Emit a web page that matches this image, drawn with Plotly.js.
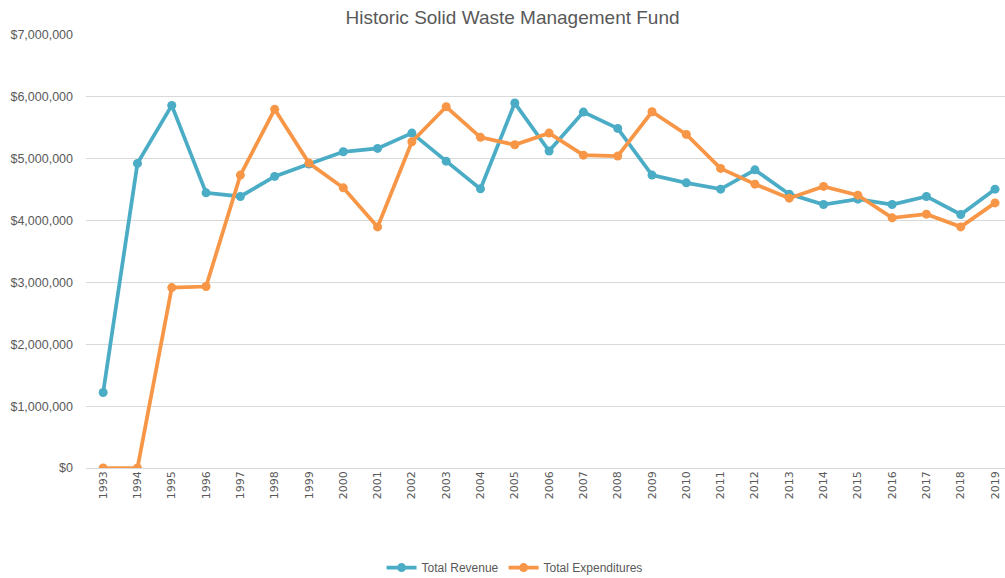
<!DOCTYPE html>
<html>
<head>
<meta charset="utf-8">
<script src="https://cdn.plot.ly/plotly-3.0.1.min.js"></script>
<style>html,body{margin:0;padding:0;background:#fff;}#chart{width:1005px;height:578px;}</style>
</head>
<body>
<div id="chart"></div>
<script>
const years = ['1993','1994','1995','1996','1997','1998','1999','2000','2001','2002','2003','2004','2005','2006','2007','2008','2009','2010','2011','2012','2013','2014','2015','2016','2017','2018','2019'];
const totalRevenue = [1220000,4924000,5862000,4448000,4390000,4714000,4913000,5112000,5167000,5414000,4961000,4513000,5900000,5123000,5754000,5490000,4735000,4610000,4508000,4820000,4427000,4260000,4346000,4260000,4390000,4099000,4508000];
const totalExpenditures = [0,0,2917000,2934000,4735000,5798000,4929000,4529000,3898000,5274000,5840000,5345000,5225000,5414000,5058000,5042000,5759000,5393000,4843000,4589000,4362000,4552000,4411000,4044000,4104000,3898000,4286000];
const seriesNames = ['Total Revenue','Total Expenditures'];
const chartTitle = 'Historic Solid Waste Management Fund';

const font = "Liberation Sans Narrow, Arial Narrow, Liberation Sans, sans-serif";
const traces = [
  {x: years, y: totalRevenue, name: seriesNames[0], type: 'scatter', mode: 'lines+markers',
   line: {color: '#4BACC6', width: 3.75}, marker: {color: '#4BACC6', size: 9}},
  {x: years, y: totalExpenditures, name: seriesNames[1], type: 'scatter', mode: 'lines+markers',
   line: {color: '#F79646', width: 3.75}, marker: {color: '#F79646', size: 9}}
];
const layout = {
  width: 1005, height: 578,
  margin: {l: 86, r: 0, t: 35, b: 110},
  paper_bgcolor: '#fff', plot_bgcolor: '#fff',
  title: {text: chartTitle, font: {family: font, size: 19, color: '#595959'}, x: 0.51, xanchor: 'center', y: 0.97, yanchor: 'middle'},
  showlegend: true,
  legend: {orientation: 'h', x: 0.512, xanchor: 'center', y: 0.018, yanchor: 'middle', xref: 'container', yref: 'container',
    font: {family: font, size: 12, color: '#595959'}, itemwidth: 30, tracegroupgap: 0},
  xaxis: {type: 'category', range: [-0.5, 26.29], showgrid: false, showline: false, zeroline: false,
    tickangle: -90, ticks: '', ticklen: 0, tickfont: {family: 'DejaVu Sans, sans-serif', size: 11, color: '#595959'}, fixedrange: true},
  yaxis: {range: [0, 7000000], dtick: 1000000, tickprefix: '$', tickformat: ',.0f', showgrid: true,
    gridcolor: '#d9d9d9', gridwidth: 1, zeroline: true, zerolinecolor: '#d9d9d9', zerolinewidth: 1, showline: false,
    ticks: '', ticklabelstandoff: 12, tickfont: {family: font, size: 12.5, color: '#595959'}, fixedrange: true}
};
Plotly.newPlot('chart', traces, layout, {displayModeBar: false, staticPlot: true});
</script>
</body>
</html>
